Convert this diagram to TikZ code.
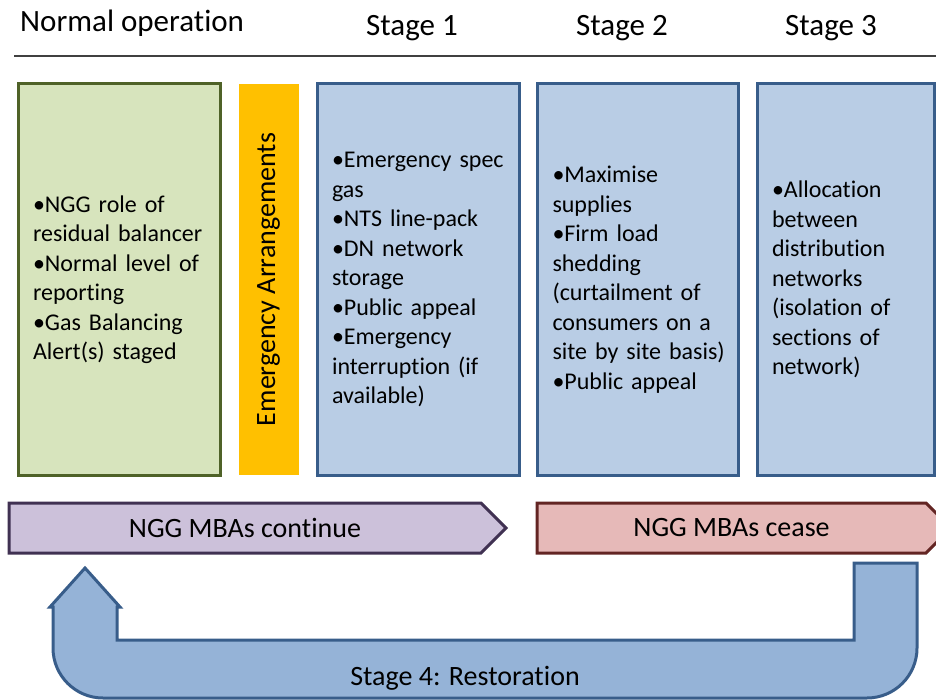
\documentclass[tikz,border=0pt]{standalone}
\usepackage{fontspec}
\setmainfont{Carlito}[Ligatures=NoCommon]
\usetikzlibrary{positioning}
\usetikzlibrary{shapes.symbols}
\definecolor{greenfill}{HTML}{D7E4BD}
\definecolor{greenline}{HTML}{4F6228}
\definecolor{bluefill}{HTML}{B9CDE5}
\definecolor{blueline}{HTML}{385D8A}
\definecolor{ufill}{HTML}{95B3D7}
\definecolor{orangefill}{HTML}{FFC000}
\definecolor{purplefill}{HTML}{CCC1DA}
\definecolor{purpleline}{HTML}{403152}
\definecolor{redfill}{HTML}{E6B9B8}
\definecolor{redline}{HTML}{632523}
\tikzset{
    head/.style = {anchor=base, inner sep=0pt, font=\fontsize{31pt}{36pt}\selectfont},
    rule/.style = {line width=1.5pt, draw=black!75},
    stagebox/.style = {rectangle, line width=3pt, outer sep=0pt, minimum height=391pt, inner xsep=11pt, align=left,
        execute at begin node={\leftskip=4pt\hyphenpenalty=10000\relax}},
    boxg/.style = {stagebox, draw=greenline, fill=greenfill, text width=180pt},
    boxb/.style = {stagebox, draw=blueline, fill=bluefill, text width=#1},
    boxo/.style = {rectangle, outer sep=0pt, inner sep=0pt, fill=orangefill, minimum width=60pt, minimum height=391pt, font=\fontsize{28pt}{32pt}\selectfont},
    arrowp/.style = {signal, signal to=east, signal pointer angle=90, line width=3pt, outer sep=0pt, draw=purpleline, fill=purplefill,
        minimum height=50pt, minimum width=497pt, inner sep=0pt, anchor=west, font=\fontsize{28pt}{32pt}\selectfont},
    arrowr/.style = {arrowp, draw=redline, fill=redfill, minimum width=414pt},
    uarrow/.style = {line width=3pt, draw=blueline, fill=ufill, line join=miter} % stage 4
}
\begin{document}
\begin{tikzpicture}[x=1pt, y=-1pt, node distance=18.5pt, font=\fontsize{24pt}{29.5pt}\selectfont]
\useasboundingbox (0,0) rectangle (936,700);
\clip (0,0) rectangle (936,700);

  \node[head, anchor=base west] (hnormal) at (20,32) {Normal operation};
  \node[head] (hstage1) at (412,36) {Stage 1};
  \node[head] (hstage2) at (622,36) {Stage 2};
  \node[head] (hstage3) at (831,36) {Stage 3};
  \draw[rule] (14,56) -- (936,56);

  \node[boxg, anchor=north west] (normal) at (18,84)
    {•NGG role of\\residual balancer\\•Normal level of\\reporting\\•Gas Balancing\\Alert(s) staged};
  \node[boxo, right=of normal] (emerg) {\rotatebox{90}{Emergency Arrangements}};
  \node[boxb=180pt, right=of emerg] (stage1)
    {•Emergency spec\\gas\\•NTS line-pack\\•DN network\\storage\\•Public appeal\\•Emergency\\interruption (if\\available)};
  \node[boxb=179pt, right=of stage1] (stage2)
    {•Maximise\\supplies\\•Firm load\\shedding\\(curtailment of\\consumers on a\\site by site basis)\\•Public appeal};
  \node[boxb=155pt, right=of stage2] (stage3)
    {•Allocation\\between\\distribution\\networks\\(isolation of\\sections of\\network)};

  \node[arrowp] (mbacont) at (9,528) {NGG MBAs continue};
  \node[arrowr] (mbacease) at (537,528) {NGG MBAs cease};

  \draw[uarrow] (85,568) -- (120,607) -- (117,607) -- (117,640) -- (854,640) -- (854,563)
    -- (917,563) -- (917,648) .. controls (917,675.6) and (894.6,698) .. (867,698)
    -- (103,698) .. controls (75.4,698) and (53,675.6) .. (53,648)
    -- (53,607) -- (50,607) -- cycle;
  \node[font=\fontsize{28pt}{32pt}\selectfont] (restore) at (465,678) {Stage 4: Restoration};

\end{tikzpicture}
\end{document}
